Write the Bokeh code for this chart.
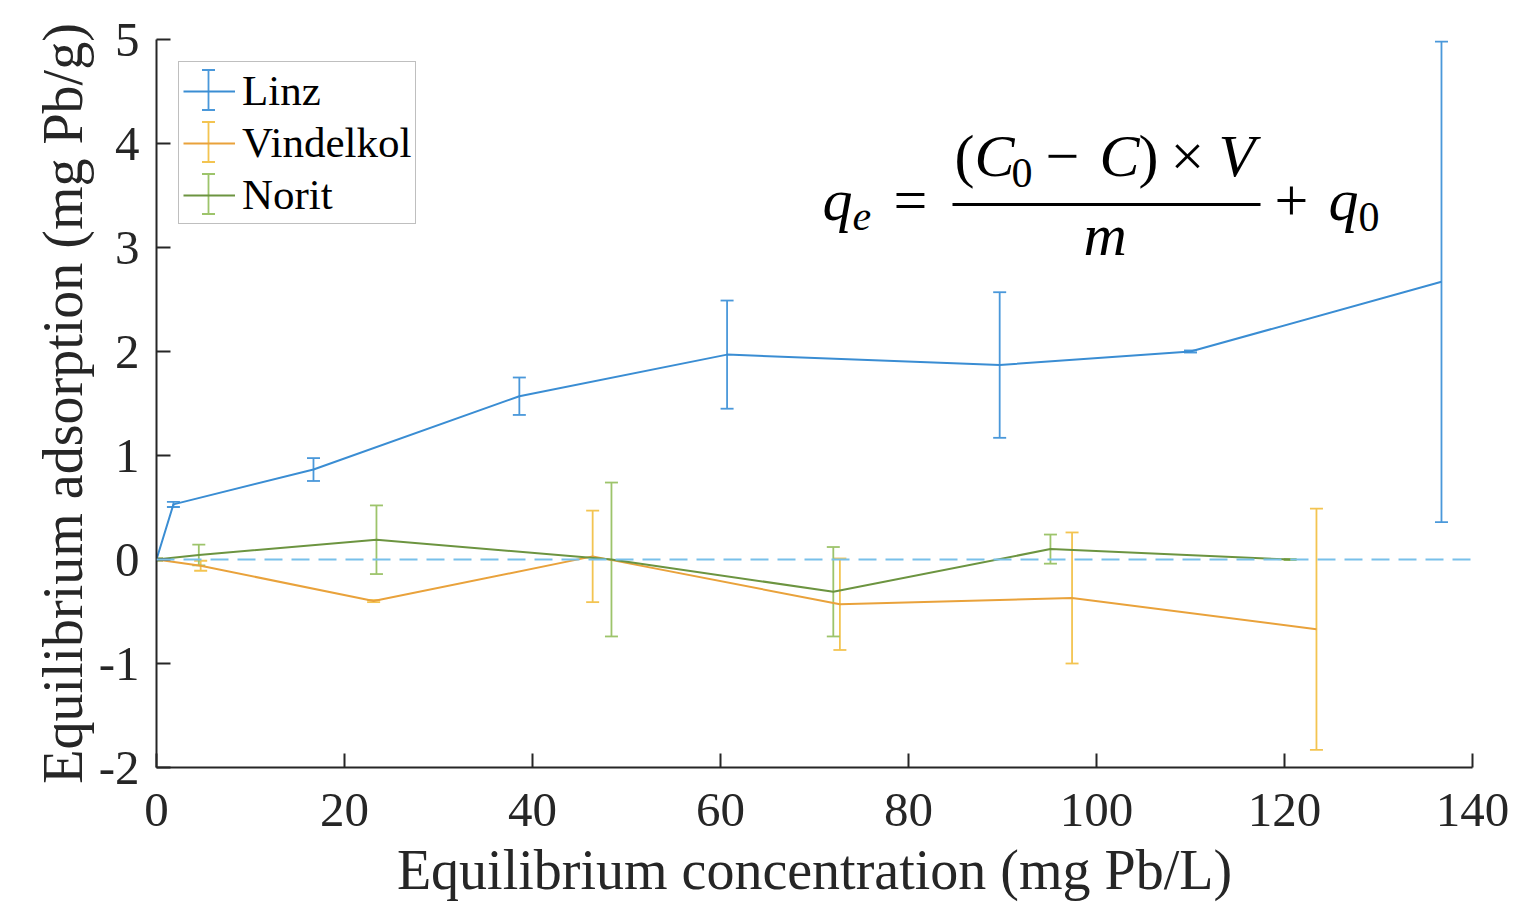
from bokeh.plotting import figure
from bokeh.models import (Range1d, FixedTicker, Whisker, TeeHead, ColumnDataSource,
                          Legend, LegendItem, Span, Label, Arrow)
from bokeh.embed import file_html
from bokeh.resources import INLINE

# ---------------- data ----------------
linz_x = [0, 1.8, 16.7, 38.6, 60.7, 89.7, 110.0, 136.7]
linz_y = [0, 0.53, 0.865, 1.57, 1.97, 1.87, 2.0, 2.67]
linz_err = [0.01, 0.025, 0.11, 0.18, 0.52, 0.70, 0.01, 2.31]

vind_x = [0, 4.7, 23.1, 46.4, 72.7, 97.4, 123.4]
vind_y = [0, -0.06, -0.40, 0.03, -0.43, -0.37, -0.67]
vind_err = [0.01, 0.048, 0.01, 0.44, 0.44, 0.63, 1.16]

norit_x = [0, 4.5, 23.4, 48.4, 72.0, 95.1, 120.6]
norit_y = [0, 0.043, 0.19, 0.0, -0.31, 0.10, 0.0]
norit_err = [0.01, 0.10, 0.33, 0.74, 0.43, 0.14, 0.005]

series_names = ["Linz", "Vindelkol", "Norit"]
line_colors = ["#3A8DD3", "#E9A23B", "#6C9440"]
bar_colors = ["#4A98DA", "#F3C451", "#9DC46B"]

x_ticks = [0, 20, 40, 60, 80, 100, 120, 140]
x_tick_labels = ["0", "20", "40", "60", "80", "100", "120", "140"]
y_ticks = [-2, -1, 0, 1, 2, 3, 4, 5]
y_tick_labels = ["-2", "-1", "0", "1", "2", "3", "4", "5"]

x_label = "Equilibrium concentration (mg Pb/L)"
y_label = "Equilibrium adsorption (mg Pb/g)"

SERIF = "Liberation Serif"
AXIS_COLOR = "#262626"

# ---------------- figure ----------------
W, H = 1515, 905
FL, FT, FR, FB = 156, 39, 1472, 767   # plot frame edges in picture pixels
p = figure(width=W, height=H, x_range=Range1d(0, 140), y_range=Range1d(-2, 5),
           output_backend="svg", toolbar_location=None,
           min_border_left=FL, min_border_right=W - FR, min_border_top=FT, min_border_bottom=H - FB)
p.outline_line_color = None
p.grid.visible = False
p.background_fill_color = "white"
p.border_fill_color = "white"

for ax, ticks, labels in ((p.xaxis[0], x_ticks, x_tick_labels), (p.yaxis[0], y_ticks, y_tick_labels)):
    ax.ticker = FixedTicker(ticks=ticks)
    ax.major_label_overrides = {t: l for t, l in zip(ticks, labels)}
    ax.minor_tick_line_color = None
    ax.major_tick_in = 14
    ax.major_tick_out = 0
    ax.major_tick_line_width = 2
    ax.major_tick_line_color = AXIS_COLOR
    ax.axis_line_width = 2
    ax.axis_line_color = AXIS_COLOR
    ax.major_label_text_font = SERIF
    ax.major_label_text_font_size = "49px"
    ax.major_label_text_color = AXIS_COLOR
    ax.axis_label_text_font = SERIF
    ax.axis_label_text_font_size = "56px"
    ax.axis_label_text_font_style = "normal"
    ax.axis_label_text_color = AXIS_COLOR

p.xaxis.axis_label = x_label
p.yaxis.axis_label = y_label
p.xaxis.major_label_standoff = 26
p.xaxis.axis_label_standoff = 10
p.yaxis.major_label_standoff = 17
p.yaxis.axis_label_standoff = 2

# zero reference line
p.add_layout(Span(location=0, dimension="width", line_color="#78C0EA",
                  line_width=2, line_dash="18 9"))

# ---------------- series ----------------
renderers = []
for xs, ys, es, lc, bc in ((linz_x, linz_y, linz_err, line_colors[0], bar_colors[0]),
                           (vind_x, vind_y, vind_err, line_colors[1], bar_colors[1]),
                           (norit_x, norit_y, norit_err, line_colors[2], bar_colors[2])):
    src = ColumnDataSource(dict(x=xs, y=ys,
                                upper=[y + e for y, e in zip(ys, es)],
                                lower=[y - e for y, e in zip(ys, es)]))
    r = p.line("x", "y", source=src, line_color=lc, line_width=2)
    renderers.append(r)
    p.add_layout(Whisker(source=src, base="x", upper="upper", lower="lower", dimension="height",
                         line_color=bc, line_width=1.8,
                         upper_head=TeeHead(size=13, line_color=bc, line_width=1.8),
                         lower_head=TeeHead(size=13, line_color=bc, line_width=1.8)))

# ---------------- legend ----------------
LEG_MARGIN, LEG_PAD, GLYPH_W, ROW_H, ROW_SP = 22, 4, 52, 46, 3
LEG_TEXT_H = 49   # rendered row height of the 43px labels
# error-bar symbols under the (transparent) legend glyphs (frame screen units, origin bottom-left)
FRAME_H = FB - FT
gx0 = LEG_MARGIN + LEG_PAD
gcx = gx0 + GLYPH_W / 2
for i, bc in enumerate(bar_colors):
    cy = FRAME_H - (LEG_MARGIN + LEG_PAD + i * (LEG_TEXT_H + ROW_SP) + LEG_TEXT_H / 2)
    p.add_layout(Arrow(x_start=gcx, y_start=cy - 20, x_end=gcx, y_end=cy + 20,
                       start_units="screen", end_units="screen",
                       start=TeeHead(size=13, line_color=bc, line_width=1.8),
                       end=TeeHead(size=13, line_color=bc, line_width=1.8),
                       line_color=bc, line_width=1.8))

legend = Legend(items=[LegendItem(label=n, renderers=[r]) for n, r in zip(series_names, renderers)],
                location="top_left", margin=LEG_MARGIN, padding=LEG_PAD, spacing=ROW_SP,
                glyph_width=GLYPH_W, glyph_height=ROW_H, label_height=ROW_H, label_standoff=7,
                label_text_font=SERIF, label_text_font_size="43px", label_text_color="black",
                border_line_color="#808080", border_line_width=1.5,
                background_fill_alpha=0.0)
p.add_layout(legend)

# ---------------- formula ----------------
BASE_SHIFT = 0.37  # label baseline correction (fraction of font size)


def ftext(txt, px, py, size, italic):
    p.add_layout(Label(x=px - FL, y=FB - py + BASE_SHIFT * size, x_units="screen", y_units="screen",
                       text=txt, text_font=SERIF, text_font_size=f"{size}px",
                       text_font_style="italic" if italic else "normal",
                       text_align="left", text_baseline="alphabetic", text_color="black"))


ftext("q", 822, 222, 60, True)
ftext("e", 852, 231, 42, True)
ftext("=", 893, 222, 60, False)
ftext("(", 954, 178, 60, False)
ftext("C", 974, 178, 60, True)
ftext("0", 1011, 188, 42, False)
ftext("\u2212", 1045, 178, 60, False)
ftext("C", 1099, 178, 60, True)
ftext(")", 1138, 178, 60, False)
ftext("\u00d7", 1170, 178, 60, False)
ftext("V", 1218, 178, 60, True)
ftext("m", 1083, 257, 60, True)
ftext("+", 1274, 222, 60, False)
ftext("q", 1328, 222, 60, True)
ftext("0", 1358, 232, 42, False)
p.add_layout(Arrow(x_start=952 - FL, y_start=FB - 204, x_end=1260 - FL, y_end=FB - 204,
                   start_units="screen", end_units="screen", start=None, end=None,
                   line_color="black", line_width=3))

open("out.html", "w").write(file_html(p, INLINE))
